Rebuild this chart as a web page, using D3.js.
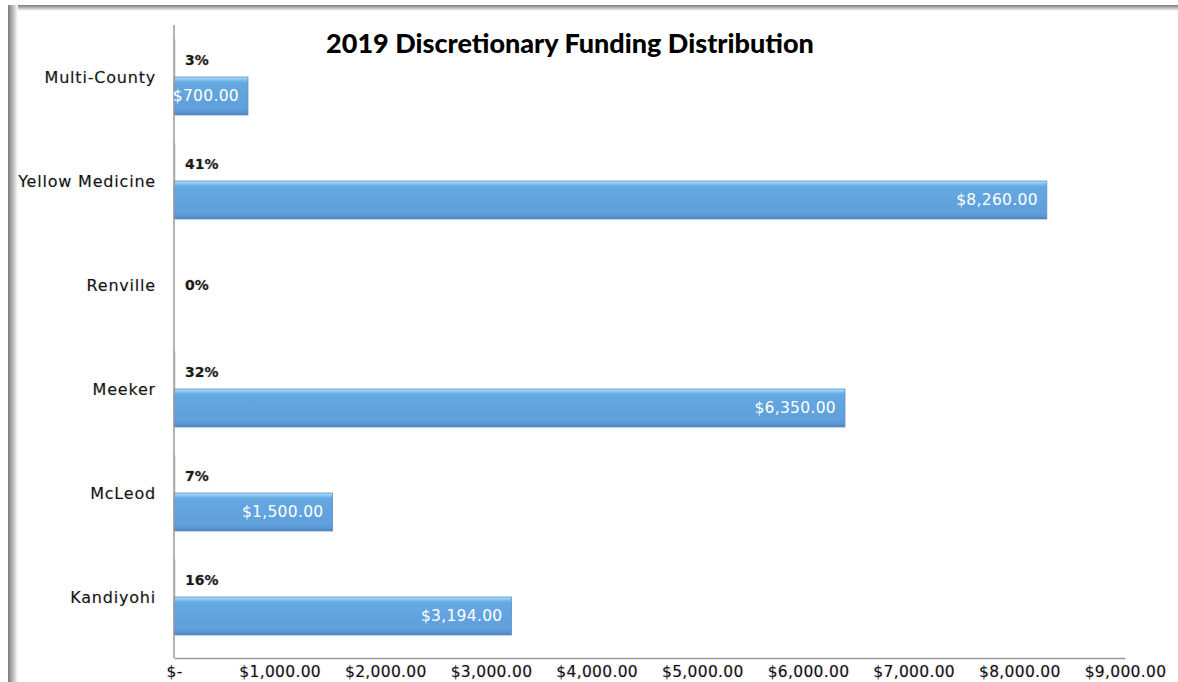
<!DOCTYPE html>
<html>
<head>
<meta charset="utf-8">
<script src="https://cdn.jsdelivr.net/npm/d3@7"></script>
<style>
  body { margin: 0; background: #fff; }
  svg { display: block; }
</style>
</head>
<body>
<svg id="chart"></svg>
<script>
// chart data, top row first
var categories = ["Multi-County", "Yellow Medicine", "Renville", "Meeker", "McLeod", "Kandiyohi"];
var amounts = [700, 8260, 0, 6350, 1500, 3194];
var shares = [0.03, 0.41, 0, 0.32, 0.07, 0.16];
var tickValues = [0, 1000, 2000, 3000, 4000, 5000, 6000, 7000, 8000, 9000];

var width = 1178, height = 682;
var margin = { top: 25, right: 53, bottom: 24, left: 174 };

var svg = d3.select("#chart")
    .attr("width", width)
    .attr("height", height);

var defs = svg.append("defs");

// bar gradient - light bevel on top, darker edge at the bottom
var grad = defs.append("linearGradient")
    .attr("id", "barFill")
    .attr("x1", 0).attr("y1", 0).attr("x2", 0).attr("y2", 1);
[["0%", "#b5e0f8"], ["6%", "#8cc8ef"], ["14%", "#65a8e0"], ["85%", "#5f9fdc"], ["95%", "#5690cc"], ["100%", "#4a7fb5"]]
    .forEach(function (s) {
        grad.append("stop").attr("offset", s[0]).attr("stop-color", s[1]);
    });

// frame shadow on top and left edges
var leftShade = defs.append("linearGradient").attr("id", "leftShade")
    .attr("x1", 0).attr("y1", 0).attr("x2", 1).attr("y2", 0);
leftShade.append("stop").attr("offset", "0%").attr("stop-color", "#7a7a7a");
leftShade.append("stop").attr("offset", "100%").attr("stop-color", "#ffffff");
var topShade = defs.append("linearGradient").attr("id", "topShade")
    .attr("x1", 0).attr("y1", 0).attr("x2", 0).attr("y2", 1);
topShade.append("stop").attr("offset", "0%").attr("stop-color", "#7a7a7a");
topShade.append("stop").attr("offset", "100%").attr("stop-color", "#ffffff");

svg.append("rect").attr("x", 8).attr("y", 5).attr("width", width - 8).attr("height", 6)
    .attr("fill", "url(#topShade)");
svg.append("rect").attr("x", 8).attr("y", 5).attr("width", 10).attr("height", height - 5)
    .attr("fill", "url(#leftShade)");

var plotW = width - margin.left - margin.right;
var plotH = height - margin.top - margin.bottom;

var x = d3.scaleLinear()
    .domain([0, 9000])
    .range([0, plotW]);

var step = 104;
var y = d3.scaleBand()
    .domain(categories)
    .range([0, step * categories.length]);

var g = svg.append("g")
    .attr("transform", "translate(" + margin.left + "," + margin.top + ")");

var barH = 38;
var labelFont = "'DejaVu Sans', Verdana, sans-serif";

// share series (near-zero width, shown as faint line)
g.selectAll(".share")
    .data(categories)
    .enter().append("rect")
    .attr("class", "share")
    .attr("x", 0)
    .attr("y", function (d) { return y(d) + 14; })
    .attr("width", function (d, i) { return Math.max(1.5, x(shares[i])); })
    .attr("height", barH)
    .attr("fill", "#d6d6d6")
    .attr("display", function (d, i) { return amounts[i] > 0 ? null : "none"; });

// amount bars
g.selectAll(".bar")
    .data(categories)
    .enter().append("rect")
    .attr("class", "bar")
    .attr("x", 0)
    .attr("y", function (d) { return y(d) + 52; })
    .attr("width", function (d, i) { return x(amounts[i]); })
    .attr("height", barH)
    .attr("fill", "url(#barFill)")
    .attr("stroke", "#5b8ec2")
    .attr("stroke-width", 0.8)
    .attr("display", function (d, i) { return amounts[i] > 0 ? null : "none"; });

// y axis line
g.append("line")
    .attr("x1", 0).attr("x2", 0)
    .attr("y1", 0).attr("y2", plotH)
    .attr("stroke", "#9a9a9a").attr("stroke-width", 1.5);

// x axis line + labels
var xAxis = g.append("g")
    .attr("transform", "translate(0," + plotH + ")")
    .call(d3.axisBottom(x)
        .tickValues(tickValues)
        .tickSize(0)
        .tickPadding(6)
        .tickFormat(function (v) { return v === 0 ? "$-" : d3.format("$,.2f")(v); }));
xAxis.select(".domain").attr("stroke", "#9a9a9a").attr("stroke-width", 1.5);
xAxis.selectAll("text")
    .attr("dy", "0.85em")
    .style("font-family", labelFont)
    .style("font-size", "15.5px")
    .style("letter-spacing", "0.3px")
    .style("text-shadow", "0 0 2px rgba(0,0,0,0.25)")
    .attr("fill", "#111");

// category labels
g.selectAll(".cat")
    .data(categories)
    .enter().append("text")
    .attr("class", "cat")
    .attr("x", -18)
    .attr("y", function (d) { return y(d) + 52; })
    .attr("dy", "0.35em")
    .attr("text-anchor", "end")
    .style("font-family", labelFont)
    .style("font-size", "16px")
    .style("letter-spacing", "0.8px")
    .style("text-shadow", "0 0 2px rgba(0,0,0,0.2)")
    .attr("fill", "#111")
    .text(function (d) { return d; });

// share labels
g.selectAll(".pct")
    .data(categories)
    .enter().append("text")
    .attr("class", "pct")
    .attr("x", 11)
    .attr("y", function (d, i) { return amounts[i] > 0 ? y(d) + 35 : y(d) + 52; })
    .attr("dy", "0.35em")
    .style("font-family", labelFont)
    .style("font-size", "14px")
    .style("font-weight", "bold")
    .style("text-shadow", "0 0 2px rgba(0,0,0,0.25)")
    .attr("fill", "#1a1a1a")
    .text(function (d, i) { return d3.format(".0%")(shares[i]); });

// amount labels inside bar ends
g.selectAll(".amt")
    .data(categories)
    .enter().append("text")
    .attr("class", "amt")
    .attr("x", function (d, i) { return x(amounts[i]) - 9; })
    .attr("y", function (d) { return y(d) + 52 + barH / 2; })
    .attr("dy", "0.35em")
    .attr("text-anchor", "end")
    .style("font-family", labelFont)
    .style("font-size", "15.5px")
    .style("letter-spacing", "0.3px")
    .attr("fill", "#ffffff")
    .attr("display", function (d, i) { return amounts[i] > 0 ? null : "none"; })
    .text(function (d, i) { return d3.format("$,.2f")(amounts[i]); });

// title
svg.append("text")
    .attr("x", 570)
    .attr("y", 53)
    .attr("text-anchor", "middle")
    .style("font-family", "Lato, 'Open Sans', sans-serif")
    .style("font-size", "27px")
    .style("font-weight", "900")
    .attr("fill", "#000")
    .text("2019 Discretionary Funding Distribution");
</script>
</body>
</html>
